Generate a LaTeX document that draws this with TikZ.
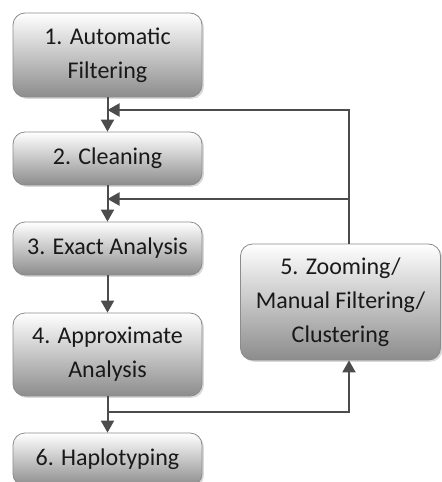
\documentclass[tikz,border=0pt]{standalone}
\usepackage{fontspec}
\setmainfont{Carlito}
\usetikzlibrary{positioning,arrows.meta,shadows}
\tikzset{
stage/.style={draw=black!45,rounded corners=6pt,top color=white,bottom color=black!45,
minimum width=94.5pt,align=center,inner sep=2pt,font=\fontsize{12}{17}\selectfont,text=black!90,
drop shadow={shadow xshift=0.9pt,shadow yshift=-0.9pt,opacity=0.3}},
flow/.style={-{Triangle[length=6pt,width=6.5pt]},line width=1pt,black!70}
}
\begin{document}
\begin{tikzpicture}[x=0.5pt,y=-0.5pt]
\useasboundingbox (0,0) rectangle (441,482);
\node[stage,minimum height=42pt] (auto) at (107.5,55) {1. Automatic\\Filtering};
\node[stage,minimum height=26.5pt] (clean) at (107.5,158.5) {2. Cleaning};
\node[stage,minimum height=26.5pt] (exact) at (107.5,248.5) {3. Exact Analysis};
\node[stage,minimum height=41.5pt] (approx) at (107.5,354.5) {4. Approximate\\Analysis};
\node[stage,minimum height=26.5pt] (haplo) at (107.5,459.5) {6. Haplotyping};
\node[stage,minimum width=100pt,minimum height=58pt] (zoom) at (340.5,302) {5. Zooming/\\Manual Filtering/\\Clustering};
% loop back and branch points
\coordinate (loopx) at (349,0);
\coordinate (j1) at (107.5,110);
\coordinate (j2) at (107.5,199);
\coordinate (split) at (107.5,412);
\draw[flow] (auto) -- (clean);
\draw[flow] (clean) -- (exact);
\draw[flow] (exact) -- (approx);
\draw[flow] (approx) -- (haplo);
\draw[flow] (zoom.north -| loopx) |- (j1);
\draw[flow] (zoom.north -| loopx) |- (j2);
\draw[flow] (split) -| (zoom.south -| loopx);
\end{tikzpicture}
\end{document}
